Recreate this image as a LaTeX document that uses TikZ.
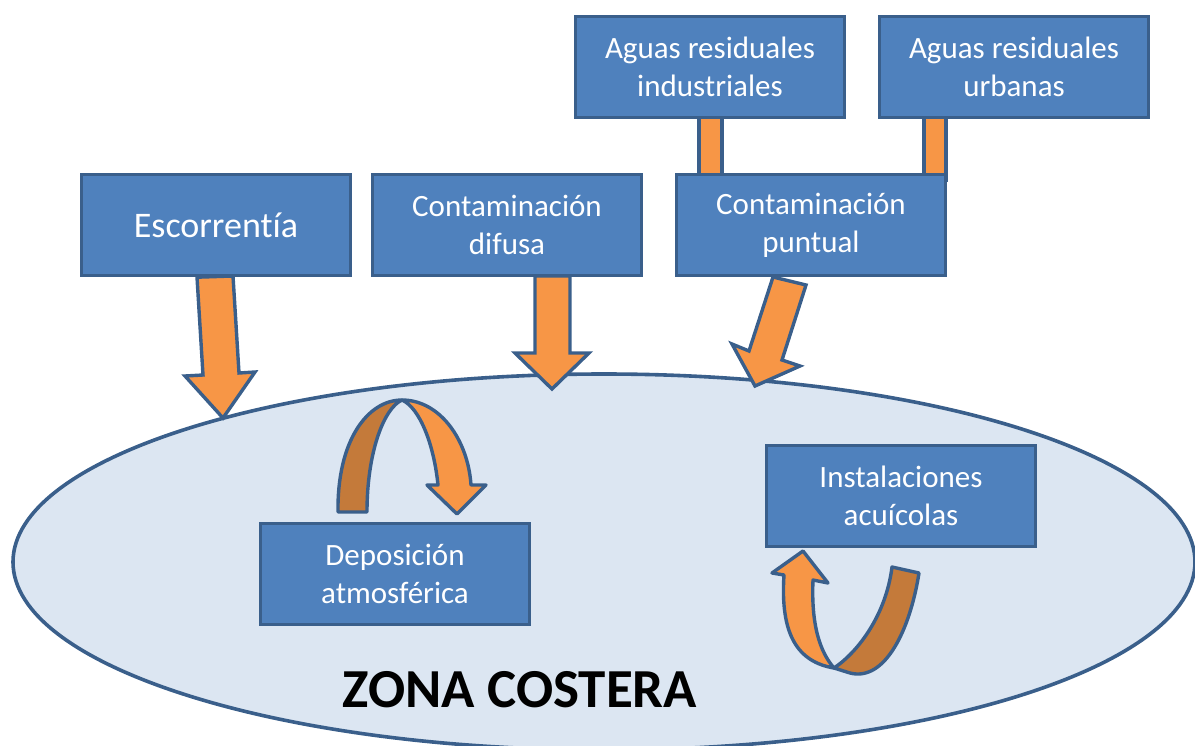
\documentclass[tikz,border=0pt]{standalone}
\usepackage{fontspec}
\setmainfont{Carlito}[Ligatures={NoCommon}]
\usetikzlibrary{shapes.geometric}
\definecolor{boxfill}{HTML}{4F81BD}
\definecolor{boxline}{HTML}{3A5F8B}
\definecolor{seafill}{HTML}{DCE6F2}
\definecolor{orangeA}{HTML}{F79646}
\definecolor{orangeB}{HTML}{C47A3A}
\tikzset{
  box/.style={draw=boxline, fill=boxfill, line width=3.4pt, text=white, align=center,
    minimum width=269pt, minimum height=101pt, inner sep=0pt, font=\fontsize{31}{38}\selectfont},
  blockarrow/.style={draw=boxline, fill=orangeA, line width=3.4pt, line join=miter},
  backarrow/.style={draw=boxline, fill=orangeB, line width=3.4pt, line join=round},
}
\begin{document}
\begin{tikzpicture}[x=1pt,y=-1pt]
\useasboundingbox (0,0) rectangle (1195,745);
% coastal zone
\node[ellipse, draw=boxline, fill=seafill, line width=3.6pt, minimum width=1182pt, minimum height=376pt, inner sep=0pt] (sea) at (604,562) {};
\node[font=\fontsize{55}{60}\selectfont\bfseries, text=black] (zona) at (520,690) {ZONA COSTERA};
% connector bars (behind boxes)
\draw[blockarrow] (699,110) rectangle (722,180);
\draw[blockarrow] (924,110) rectangle (946,180);
% boxes
\node[box] (ind) at (710,67) {Aguas residuales\\industriales};
\node[box] (urb) at (1014,67) {Aguas residuales\\urbanas};
\node[box, font=\fontsize{36}{40}\selectfont] (esc) at (216,225) {Escorrentía};
\node[box] (dif) at (507,225) {Contaminación\\difusa};
\node[box] (pun) at (811,225) {Contaminación\\puntual};
\node[box] (dep) at (395,574) {Deposición\\atmosférica};
\node[box] (ins) at (901,496) {Instalaciones\\acuícolas};
% straight block arrows
\draw[blockarrow] (esc.south) ++(-19,0) coordinate (e1) -- (203,375) -- (185,376) -- (223,418) coordinate (etip) -- (255,372) -- (239,373) -- (233,276) -- cycle;
\draw[blockarrow] (535,276) coordinate (d1) -- (535,353) -- (515,353) -- (552,389) coordinate (dtip) -- (589,353) -- (570,353) -- (570,276) -- cycle;
\draw[blockarrow] (773,277) coordinate (p1) -- (749,351) -- (732,344) -- (755,386) coordinate (ptip) -- (800,366) -- (782,360) -- (806,285) -- cycle;
% curved arrow near Deposicion
\draw[backarrow] (338,512) .. controls (337,440) and (368,400) .. (402,400)
   .. controls (384,408) and (367,452) .. (367,512) -- cycle;
\draw[blockarrow, line join=round] (402,400) .. controls (440,400) and (468,440) .. (471,485)
   -- (486,485) -- (457,514) -- (427,485) -- (438,485)
   .. controls (434,445) and (420,408) .. (402,400) -- cycle;
% curved arrow near Instalaciones
\draw[backarrow] (892,567) -- (919,573) .. controls (910,630) and (885,682) .. (850,673)
   -- (834,668) .. controls (858,652) and (886,615) .. (892,567) -- cycle;
\draw[blockarrow, line join=round] (813,580) -- (828,583) -- (803,551) -- (772,573) -- (784,575)
   .. controls (780,635) and (798,662) .. (834,668)
   .. controls (820,652) and (811,625) .. (813,580) -- cycle;
\end{tikzpicture}
\end{document}
